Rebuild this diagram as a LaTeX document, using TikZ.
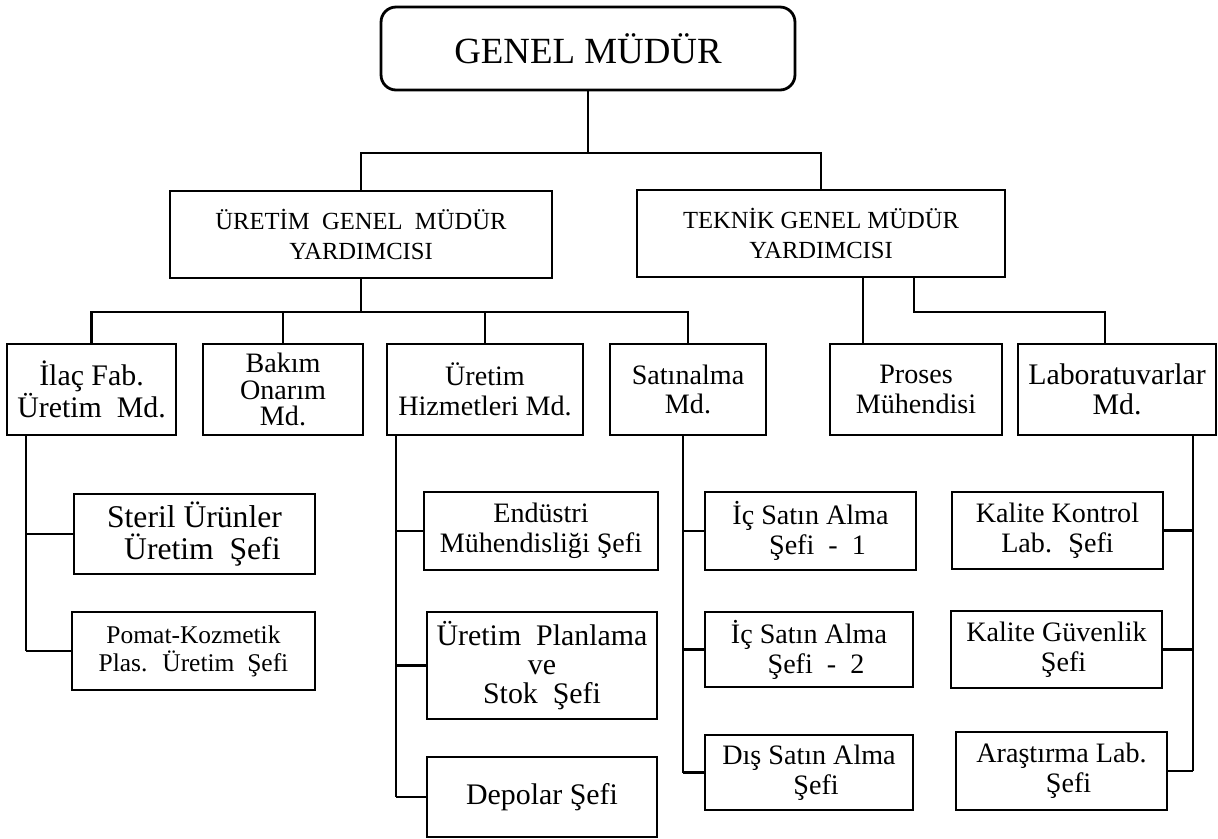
\documentclass[tikz,border=0pt]{standalone}
\usepackage{fontspec}
\setmainfont{Liberation Serif}
\usepackage{tikz}
\usetikzlibrary{positioning,calc}

\begin{document}
\begin{tikzpicture}[x=0.02cm, y=-0.02cm, line width=1.4pt,
  box/.style={draw, align=center, inner sep=1pt}]
  \useasboundingbox (0,0) rectangle (1218,839);

  % Genel mudur and assistants
  \node[box, rounded corners=0.3cm, line width=1.6pt, minimum width=8.28cm, minimum height=1.66cm, font=\fontsize{21}{24}\selectfont] (genMd) at (588, 48.5) {GENEL MÜDÜR};
  \node[box, minimum width=7.64cm, minimum height=1.74cm, font=\fontsize{14}{17}\selectfont] (uretimGmy) at (361, 234.5) {ÜRETİM \ GENEL \ MÜDÜR\\YARDIMCISI};
  \node[box, minimum width=7.36cm, minimum height=1.74cm, font=\fontsize{14}{17}\selectfont] (teknikGmy) at (821, 233.5) {TEKNİK GENEL MÜDÜR\\YARDIMCISI};

  \coordinate (barTop) at (0, 153);
  \draw (genMd.south) -- (genMd.south |- barTop);
  \draw (uretimGmy.north) |- (teknikGmy.north |- barTop) -- (teknikGmy.north);

  % Mudurluk row
  \node[box, minimum width=3.38cm, minimum height=1.82cm, font=\fontsize{17}{15.5}\selectfont] (ilacMd) at (91.5, 389.5) {İlaç Fab.\\Üretim \ Md.};
  \node[box, minimum width=3.2cm, minimum height=1.82cm, font=\fontsize{16}{15}\selectfont] (bakimMd) at (283, 389.5) {Bakım\\Onarım\\Md.};
  \node[box, minimum width=3.92cm, minimum height=1.82cm, font=\fontsize{16}{17}\selectfont] (hizmetMd) at (485, 389.5) {Üretim\\Hizmetleri Md.};
  \node[box, minimum width=3.12cm, minimum height=1.82cm, font=\fontsize{16}{17}\selectfont] (satinMd) at (688, 389.5) {Satınalma\\Md.};
  \node[box, minimum width=3.44cm, minimum height=1.82cm, font=\fontsize{16}{17}\selectfont] (proses) at (916, 389.5) {Proses\\Mühendisi};
  \node[box, minimum width=3.96cm, minimum height=1.82cm, font=\fontsize{17}{17}\selectfont] (labMd) at (1117, 389.5) {Laboratuvarlar\\Md.};

  \coordinate (barMid) at (0, 312);
  \draw (uretimGmy.south) -- (uretimGmy.south |- barMid);
  \draw (ilacMd.north) |- (satinMd.north |- barMid) -- (satinMd.north);
  \foreach \n in {bakimMd, hizmetMd}
    \draw (\n.north) -- (\n.north |- barMid);
  \draw ([xshift=-1.06cm]proses.north) -- ([xshift=-1.06cm]proses.north |- teknikGmy.south);
  \coordinate (labTap) at ([xshift=-1.84cm]teknikGmy.south east);
  \draw (labTap) |- ([xshift=-0.24cm]labMd.north |- barMid) -- ([xshift=-0.24cm]labMd.north);

  % Sefler under ilac fab.
  \node[box, minimum width=4.82cm, minimum height=1.6cm, font=\fontsize{18}{18}\selectfont] (steril) at (194.5, 534) {Steril Ürünler\\\ \ Üretim \ Şefi};
  \node[box, minimum width=4.86cm, minimum height=1.56cm, font=\fontsize{14.5}{16}\selectfont] (pomat) at (193.5, 651) {Pomat-Kozmetik\\Plas. \ Üretim \ Şefi};
  \coordinate (ilacSp) at ([xshift=0.4cm]ilacMd.south west);
  \draw (ilacSp) -- (ilacSp |- pomat.west);
  \foreach \n in {steril, pomat}
    \draw (\n.west) -- (\n.west -| ilacSp);

  % Sefler under uretim hizmetleri
  \node[box, minimum width=4.68cm, minimum height=1.56cm, font=\fontsize{16}{17}\selectfont] (endustri) at (541, 531) {Endüstri\\Mühendisliği Şefi};
  \node[box, minimum width=4.6cm, minimum height=2.14cm, font=\fontsize{17}{16.5}\selectfont] (planlama) at (542, 665.5) {Üretim \ Planlama\\ve\\Stok \ Şefi};
  \node[box, minimum width=4.6cm, minimum height=1.6cm, font=\fontsize{17}{17}\selectfont] (depolar) at (542, 797) {Depolar Şefi};
  \coordinate (hizmetSp) at ([xshift=0.2cm]hizmetMd.south west);
  \draw (hizmetSp) -- (hizmetSp |- depolar.west);
  \foreach \n in {endustri, planlama, depolar}
    \draw (\n.west) -- (\n.west -| hizmetSp);

  % Sefler under satinalma
  \node[box, minimum width=4.22cm, minimum height=1.56cm, font=\fontsize{16}{17}\selectfont] (icSatin1) at (810.5, 531) {İç Satın Alma\\\ \ Şefi \ - \ 1};
  \node[box, minimum width=4.16cm, minimum height=1.5cm, font=\fontsize{16}{17}\selectfont] (icSatin2) at (809, 649.5) {İç Satın Alma\\\ \ Şefi \ - \ 2};
  \node[box, minimum width=4.16cm, minimum height=1.5cm, font=\fontsize{16}{17}\selectfont] (disSatin) at (809, 772.5) {Dış Satın Alma\\\ \ Şefi};
  \coordinate (satinSp) at ([xshift=-0.1cm]satinMd.south);
  \draw (satinSp) -- (satinSp |- disSatin.west);
  \foreach \n in {icSatin1, icSatin2, disSatin}
    \draw (\n.west) -- (\n.west -| satinSp);

  % Sefler under laboratuvarlar
  \node[box, minimum width=4.22cm, minimum height=1.54cm, font=\fontsize{16}{17}\selectfont] (kaliteKontrol) at (1057.5, 530.5) {Kalite Kontrol\\Lab. \ Şefi};
  \node[box, minimum width=4.22cm, minimum height=1.54cm, font=\fontsize{16}{17}\selectfont] (kaliteGuven) at (1056.5, 649.5) {Kalite Güvenlik\\\ \ Şefi};
  \node[box, minimum width=4.22cm, minimum height=1.56cm, font=\fontsize{16}{17}\selectfont] (arastirma) at (1061.5, 771) {Araştırma Lab.\\\ \ Şefi};
  \coordinate (labSp) at ([xshift=-0.48cm]labMd.south east);
  \draw (labSp) -- (labSp |- arastirma.east);
  \foreach \n in {kaliteKontrol, kaliteGuven, arastirma}
    \draw (\n.east) -- (\n.east -| labSp);
\end{tikzpicture}
\end{document}
